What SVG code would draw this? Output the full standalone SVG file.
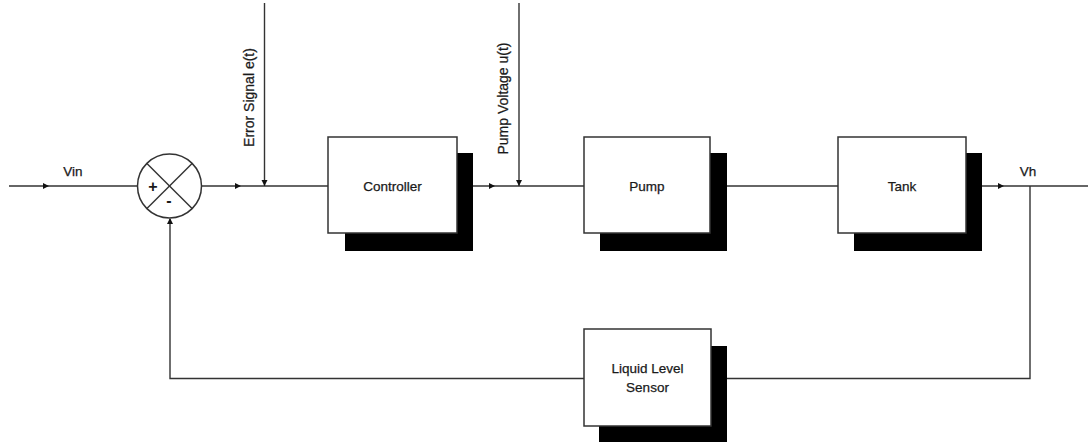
<svg xmlns="http://www.w3.org/2000/svg" width="1088" height="442" viewBox="0 0 1088 442">
<style>
.ln{stroke:#333;stroke-width:1.4;fill:none}
.box{fill:#fff;stroke:#333;stroke-width:1.5}
.sh{fill:#000}
.t{font-family:"Liberation Sans",Arial,sans-serif;font-size:13.5px;fill:#1a1a1a;text-anchor:middle;stroke:#1a1a1a;stroke-width:0.25}
.r{font-family:"Liberation Sans",Arial,sans-serif;font-size:14px;fill:#1a1a1a;text-anchor:middle;stroke:#1a1a1a;stroke-width:0.25}
.sg{font-family:"Liberation Sans",Arial,sans-serif;font-weight:bold;fill:#1a1a1a;text-anchor:middle}
.ah{fill:#111}
</style>
<rect width="1088" height="442" fill="#fff"/>
<g id="connectors">
<line class="ln" x1="9" y1="186" x2="137.5" y2="186"/>
<line class="ln" x1="201.5" y1="186" x2="328" y2="186"/>
<line class="ln" x1="473" y1="186" x2="584" y2="186"/>
<line class="ln" x1="727" y1="186" x2="838" y2="186"/>
<line class="ln" x1="982" y1="186" x2="1088" y2="186"/>
<line class="ln" x1="264.5" y1="3" x2="264.5" y2="186"/>
<line class="ln" x1="519" y1="3" x2="519" y2="186"/>
<polyline class="ln" points="1030,186 1030,378.5 727,378.5"/>
<polyline class="ln" points="584,378.5 170,378.5 170,219"/>
<polygon class="ah" points="49,186 43,183 43,189"/>
<polygon class="ah" points="241,186 235,183 235,189"/>
<polygon class="ah" points="495,186 489,183 489,189"/>
<polygon class="ah" points="1004,186 998,183 998,189"/>
<polygon class="ah" points="264.5,186 261.5,180 267.5,180"/>
<polygon class="ah" points="519,186 516,180 522,180"/>
<polygon class="ah" points="170,218 167,224 173,224"/>
</g>
<g id="sum">
<circle cx="169.5" cy="186" r="32" fill="#fff" stroke="#333" stroke-width="1.5"/>
<line class="ln" x1="146.9" y1="163.4" x2="192.1" y2="208.6"/>
<line class="ln" x1="192.1" y1="163.4" x2="146.9" y2="208.6"/>
<text class="sg" x="153" y="192" font-size="16">+</text>
<text class="sg" x="169" y="206" font-size="16">-</text>
</g>
<g id="labels">
<text class="t" x="73" y="176">Vin</text>
<text class="t" x="1028" y="176">Vh</text>
<text class="r" transform="translate(254,97.5) rotate(-90)">Error Signal e(t)</text>
<text class="r" transform="translate(508,98.5) rotate(-90)">Pump Voltage u(t)</text>
</g>
<g id="controller">
<rect class="sh" x="345" y="153" width="128" height="98"/>
<rect class="box" x="328" y="137" width="129" height="96"/>
<text class="t" x="392.5" y="191">Controller</text>
</g>
<g id="pump">
<rect class="sh" x="600" y="153" width="127" height="98"/>
<rect class="box" x="584" y="137" width="126" height="96"/>
<text class="t" x="647" y="191">Pump</text>
</g>
<g id="tank">
<rect class="sh" x="854" y="153" width="128" height="98"/>
<rect class="box" x="838" y="137" width="128" height="96"/>
<text class="t" x="902" y="191">Tank</text>
</g>
<g id="sensor">
<rect class="sh" x="599" y="346" width="128" height="97"/>
<rect class="box" x="584" y="329" width="127" height="97"/>
<text class="t" x="647.5" y="373">Liquid Level</text>
<text class="t" x="647.5" y="392">Sensor</text>
</g>
</svg>
